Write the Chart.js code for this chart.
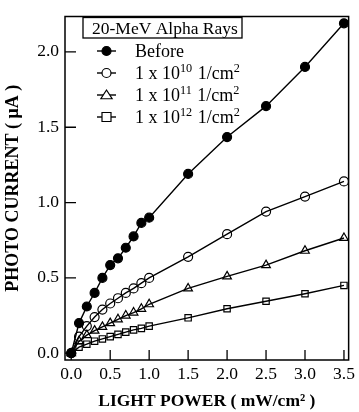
<!DOCTYPE html>
<html><head><meta charset="utf-8">
<script src="https://cdn.jsdelivr.net/npm/chart.js@4/dist/chart.umd.min.js"></script>
<style>html,body{margin:0;padding:0;background:#fff}#wrap{width:359px;height:412px;position:relative}</style>
</head><body><div id="wrap"><canvas id="c"></canvas></div>
<script>
// ---- data ----
const lightPower = [0, 0.1, 0.2, 0.3, 0.4, 0.5, 0.6, 0.7, 0.8, 0.9, 1.0, 1.5, 2.0, 2.5, 3.0, 3.5];
const before     = [0.0, 0.20, 0.31, 0.40, 0.50, 0.585, 0.63, 0.70, 0.775, 0.865, 0.90, 1.19, 1.435, 1.64, 1.90, 2.19];
const dose1e10   = [0.0, 0.11, 0.18, 0.24, 0.29, 0.33, 0.365, 0.40, 0.43, 0.465, 0.50, 0.64, 0.79, 0.94, 1.04, 1.14];
const dose1e11   = [0.0, 0.08, 0.12, 0.15, 0.175, 0.20, 0.225, 0.25, 0.27, 0.295, 0.325, 0.43, 0.51, 0.585, 0.68, 0.765];
const dose1e12   = [0.0, 0.04, 0.06, 0.08, 0.095, 0.11, 0.125, 0.14, 0.155, 0.165, 0.18, 0.235, 0.295, 0.345, 0.395, 0.45];
const seriesLabels = ['Before', '1 x 10^10 1/cm^2', '1 x 10^11 1/cm^2', '1 x 10^12 1/cm^2'];
const legendTitle = '20-MeV Alpha Rays';
const xTicks = [0.0, 0.5, 1.0, 1.5, 2.0, 2.5, 3.0, 3.5];
const yTicks = [0.0, 0.5, 1.0, 1.5, 2.0];
const xTitle = 'LIGHT POWER ( mW/cm\u00B2 )';
const yTitle = 'PHOTO CURRENT ( \u03BCA )';

// ---- chart ----
const SERIF = '"Liberation Serif", "Times New Roman", serif';
const pts = ys => lightPower.map((x, i) => ({x: x, y: ys[i]}));
const styles = [
  {pointStyle: 'circle', radius: 4.5, fill: '#000'},
  {pointStyle: 'circle', radius: 4.5, fill: 'rgba(0,0,0,0)'},
  {pointStyle: 'triangle', radius: 5, fill: 'rgba(0,0,0,0)'},
  {pointStyle: 'rect', radius: 4.5, fill: 'rgba(0,0,0,0)'}
];
const seriesData = [before, dose1e10, dose1e11, dose1e12];
const datasets = seriesData.map((d, i) => ({
  label: seriesLabels[i],
  data: pts(d),
  borderColor: '#000',
  borderWidth: 1.4,
  pointStyle: styles[i].pointStyle,
  pointRadius: styles[i].radius,
  pointBackgroundColor: styles[i].fill,
  pointBorderColor: '#000',
  pointBorderWidth: 1.2,
  tension: 0,
  fill: false
}));

function drawMarker(ctx, style, r, fill, x, y) {
  ctx.save();
  ctx.beginPath();
  if (style === 'circle') {
    ctx.arc(x, y, r, 0, Math.PI * 2);
  } else if (style === 'triangle') {
    const s = r * 1.5;
    ctx.moveTo(x, y - r * 1.0);
    ctx.lineTo(x + s * 0.75, y + r * 0.75);
    ctx.lineTo(x - s * 0.75, y + r * 0.75);
    ctx.closePath();
  } else {
    ctx.rect(x - r, y - r, 2 * r, 2 * r);
  }
  ctx.fillStyle = fill === '#000' ? '#000' : '#fff';
  ctx.fill();
  ctx.lineWidth = 1.2;
  ctx.strokeStyle = '#000';
  ctx.stroke();
  ctx.restore();
}

function drawRich(ctx, text, x, y, size) {
  // supports ^NN superscripts
  const parts = text.split(/(\^\d+)/).filter(p => p.length);
  let cx = x;
  for (const p of parts) {
    if (p[0] === '^') {
      ctx.font = (size * 0.68) + 'px ' + SERIF;
      ctx.fillText(p.slice(1), cx, y - size * 0.4);
      cx += ctx.measureText(p.slice(1)).width + 1;
    } else {
      ctx.font = size + 'px ' + SERIF;
      ctx.fillText(p, cx, y);
      cx += ctx.measureText(p).width;
    }
  }
}

const framePlugin = {
  id: 'frame',
  afterDatasetsDraw(chart) {
    const {ctx, chartArea: a, scales} = chart;
    ctx.save();
    ctx.strokeStyle = '#000';
    ctx.lineWidth = 1.5;
    ctx.strokeRect(a.left, a.top, a.right - a.left, a.bottom - a.top);
    ctx.lineWidth = 1.3;
    ctx.beginPath();
    xTicks.forEach(v => {
      const px = scales.x.getPixelForValue(v);
      ctx.moveTo(px, a.bottom); ctx.lineTo(px, a.bottom - 10);
    });
    yTicks.forEach(v => {
      const py = scales.y.getPixelForValue(v);
      ctx.moveTo(a.left, py); ctx.lineTo(a.left + 11, py);
    });
    ctx.stroke();
    ctx.restore();
  },
  afterDraw(chart) {
    const {ctx} = chart;
    ctx.save();
    ctx.fillStyle = '#000';
    ctx.textBaseline = 'alphabetic';
    // title box
    ctx.font = '17.5px ' + SERIF;
    ctx.fillText(legendTitle, 92, 34);
    ctx.lineWidth = 1.3;
    ctx.strokeStyle = '#000';
    ctx.strokeRect(83, 17.5, 159, 20.5);
    const rowY = [51, 73, 95, 117];
    chart.data.datasets.forEach((ds, i) => {
      const y = rowY[i];
      ctx.beginPath();
      ctx.lineWidth = 1.4;
      ctx.moveTo(97, y); ctx.lineTo(116, y);
      ctx.stroke();
      drawMarker(ctx, styles[i].pointStyle, styles[i].radius, styles[i].fill, 106.5, y);
      ctx.fillStyle = '#000';
      drawRich(ctx, ds.label, 135, y + 6, 18);
    });
    ctx.restore();
  }
};

new Chart(document.getElementById('c'), {
  type: 'line',
  data: {datasets},
  options: {
    responsive: true,
    maintainAspectRatio: false,
    animation: false,
    layout: {padding: {top: 13, right: 4, left: 0, bottom: 0}},
    plugins: {legend: {display: false}, tooltip: {enabled: false}},
    scales: {
      x: {
        type: 'linear', min: -0.08, max: 3.56,
        afterBuildTicks: s => { s.ticks = xTicks.map(v => ({value: v})); },
        afterFit: s => { s.height = 52; },
        grid: {display: false, drawTicks: false},
        border: {display: false},
        ticks: {color: '#000', padding: 4, maxRotation: 0, font: {family: SERIF, size: 17.5}, callback: v => Number(v).toFixed(1)},
        title: {display: true, text: xTitle, color: '#000', font: {family: SERIF, size: 17.5, weight: 'bold'}, padding: {top: 0, bottom: 0}}
      },
      y: {
        type: 'linear', min: -0.045, max: 2.235,
        afterBuildTicks: s => { s.ticks = yTicks.map(v => ({value: v})); },
        afterFit: s => { s.width = 65; },
        grid: {display: false, drawTicks: false},
        border: {display: false},
        ticks: {color: '#000', padding: 6, font: {family: SERIF, size: 17.5}, callback: v => Number(v).toFixed(1)},
        title: {display: true, text: yTitle, color: '#000', font: {family: SERIF, size: 18, weight: 'bold'}, padding: {top: 3, bottom: 0}}
      }
    }
  },
  plugins: [framePlugin]
});
</script>
</body></html>
